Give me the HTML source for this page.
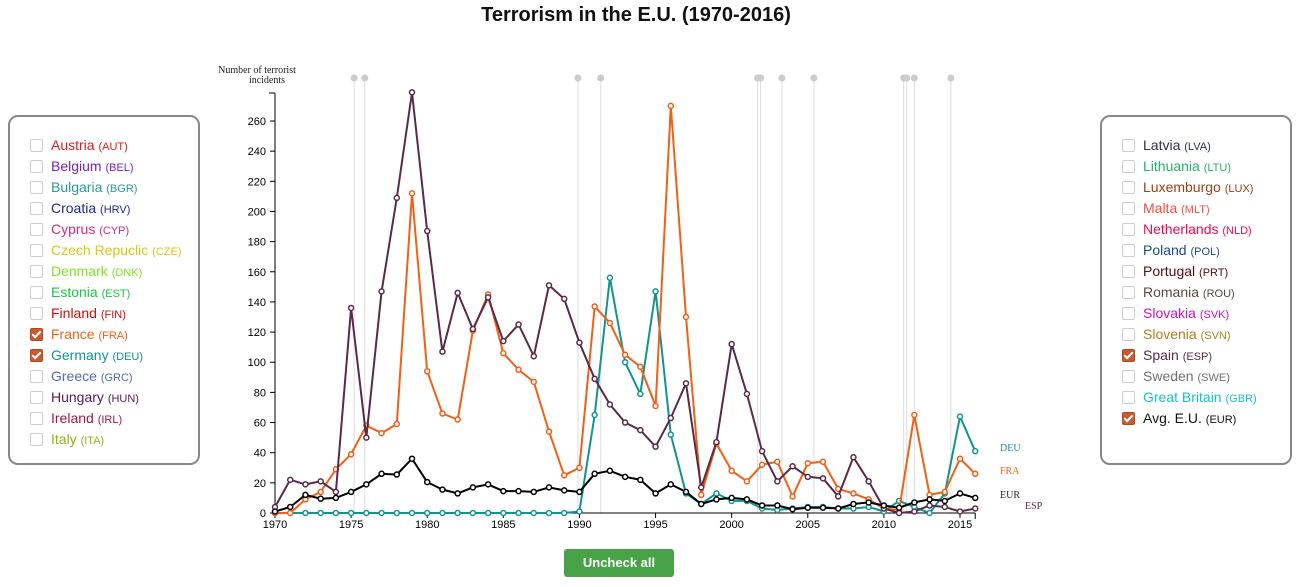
<!DOCTYPE html>
<html><head><meta charset="utf-8"><style>
body{margin:0;width:1300px;height:587px;background:#fff;font-family:"Liberation Sans",sans-serif;position:relative;overflow:hidden}
h1{position:absolute;left:0;width:1272px;top:4px;margin:0;text-align:center;font-size:20px;font-weight:bold;color:#111}
.box{position:absolute;top:115px;width:188px;height:346px;border:2px solid #888;border-radius:10px}
.item{position:absolute;left:20px;height:20px;font-size:14px;white-space:nowrap}
.item .cb{position:absolute;left:0;top:2px;width:11px;height:11px;border:1px solid #ccc;border-radius:2px;background:#fff}
.item .cb.on{background:#c95b32;border-color:#b04a25}
.item .cb.on::after{content:"";position:absolute;left:3px;top:0px;width:3px;height:7px;border:solid #fff;border-width:0 2px 2px 0;transform:rotate(45deg)}
.item span.t{position:absolute;left:21px;top:0}
.item small{font-size:11px}
#btn{position:absolute;left:564px;top:549px;width:110px;height:28px;background:#48a348;border-radius:3px;color:#fff;font-weight:bold;font-size:13px;text-align:center;line-height:28px}
svg{position:absolute;left:0;top:0}
</style></head><body>
<h1>Terrorism in the E.U. (1970-2016)</h1>
<div class="box" id="lbox" style="left:8px"></div>
<div class="box" id="rbox" style="left:1100px"></div>
<div id="btn">Uncheck all</div>
<svg id="chart" width="1300" height="587"></svg>
<script>
const left=[["Austria","AUT","#d42020",0],["Belgium","BEL","#7a1fc0",0],["Bulgaria","BGR","#2a9a98",0],["Croatia","HRV","#1f2a8c",0],["Cyprus","CYP","#d42a78",0],["Czech Repuclic","CZE","#d8c814",0],["Denmark","DNK","#7ee020",0],["Estonia","EST","#18c840",0],["Finland","FIN","#d40c0c",0],["France","FRA","#f06018",1],["Germany","DEU","#13938f",1],["Greece","GRC","#5a6aa8",0],["Hungary","HUN","#5a1a5a",0],["Ireland","IRL","#a0184a",0],["Italy","ITA","#98b018",0]];
const right=[["Latvia","LVA","#2a3050",0],["Lithuania","LTU","#28b070",0],["Luxemburgo","LUX","#a04010",0],["Malta","MLT","#f05040",0],["Netherlands","NLD","#f00850",0],["Poland","POL","#1a4a8a",0],["Portugal","PRT","#5a0a10",0],["Romania","ROU","#5a4a40",0],["Slovakia","SVK","#d010c0",0],["Slovenia","SVN","#b08018",0],["Spain","ESP","#5a2a48",1],["Sweden","SWE","#707070",0],["Great Britain","GBR","#18c0c0",0],["Avg. E.U.","EUR","#111",1]];
function fill(id,arr){const b=document.getElementById(id);arr.forEach((c,i)=>{const d=document.createElement('div');d.className='item';d.style.top=(20+i*21)+'px';d.style.color=c[2];


d.innerHTML='<div class="cb'+(c[3]?' on':'')+'"></div><span class="t">'+c[0]+' <small>('+c[1]+')</small></span>';b.appendChild(d);});}
fill('lbox',left);fill('rbox',right);

const years=[];for(let y=1970;y<=2016;y++)years.push(y);
const esp=[4,22,19,21,14,136,50,147,209,279,187,107,146,122,143,114,125,104,151,142,113,89,72,60,55,44,63,86,17,47,112,79,41,21,31,24,23,11,37,21,3,0,1,5,4,1,3];
const fra=[0,0,9,14,29,39,58,53,59,212,94,66,62,121,145,106,95,87,54,25,30,137,126,105,97,71,270,130,12,46,28,21,32,34,11,33,34,16,13,9,3,2,65,12,14,36,26];
const deu=[0,0,0,0,0,0,0,0,0,0,0,0,0,0,0,0,0,0,0,0,1,65,156,100,79,147,52,13,6,13,8,8,3,2,3,4,4,3,3,4,1,8,4,0,13,64,41];
const eur=[1,4,12,9.5,10,14,19,26,25.5,36,20.5,15.5,13,17,19,14.5,14.5,14,17,15,14,26,28,24,22,13,19,14,6,9,10,9,5,5,2.5,3.5,3.5,3,6,7,5,3.5,7,9,8,13,10];
const events=[1975.2,1975.9,1989.9,1991.4,2001.7,2001.9,2003.3,2005.4,2011.3,2011.5,2012.0,2014.4];
const yTicks=[0,20,40,60,80,100,120,140,160,180,200,220,240,260];
const xTicks=[1970,1975,1980,1985,1990,1995,2000,2005,2010,2015];
const X=y=>275+(y-1970)*(685/45), Y=v=>513-v*(392/260);
const NS="http://www.w3.org/2000/svg",svg=document.getElementById('chart');
function el(t,a,p){const e=document.createElementNS(NS,t);for(const k in a)e.setAttribute(k,a[k]);(p||svg).appendChild(e);return e;}
events.forEach((e,i)=>{const g=el('g',{});


el('line',{x1:X(e),x2:X(e),y1:78,y2:513,stroke:'#ddd','stroke-width':1},g);el('circle',{cx:X(e),cy:78,r:3.5,fill:'#ccc'},g);});
const ax=el('g',{});


el('line',{x1:275,x2:275,y1:93,y2:513,stroke:'#000'},ax);el('line',{x1:269,x2:275,y1:93,y2:93,stroke:'#000'},ax);
yTicks.forEach(v=>{el('line',{x1:270,x2:275,y1:Y(v),y2:Y(v),stroke:'#000'},ax);const t=el('text',{x:266,y:Y(v)+4,'text-anchor':'end','font-size':11,fill:'#000'},ax);t.textContent=v;});
const xa=el('g',{});


el('line',{x1:275,x2:X(2016),y1:513,y2:513,stroke:'#000'},xa);el('line',{x1:X(2016),x2:X(2016),y1:513,y2:519,stroke:'#000'},xa);
xTicks.forEach(v=>{el('line',{x1:X(v),x2:X(v),y1:513,y2:518,stroke:'#000'},xa);const t=el('text',{x:X(v),y:528,'text-anchor':'middle','font-size':11,fill:'#000'},xa);t.textContent=v;});
const yt=el('text',{x:257,y:73,'text-anchor':'middle','font-size':10,'font-family':'Liberation Serif,serif',fill:'#222'});


yt.innerHTML='<tspan x="257">Number of terrorist</tspan><tspan x="267" dy="10">incidents</tspan>';
const series=[["deu",deu,"#13938f","DEU",1000,451],["fra",fra,"#f06018","FRA",1000,474],["esp",esp,"#5a2a48","ESP",1025,509],["eur",eur,"#000","EUR",1000,498]];
series.forEach(s=>{const g=el('g',{});


el('path',{d:s[1].map((v,i)=>(i?'L':'M')+X(years[i]).toFixed(1)+','+Y(v).toFixed(1)).join(''),fill:'none',stroke:s[2],'stroke-width':2},g);
s[1].forEach((v,i)=>el('circle',{cx:X(years[i]),cy:Y(v),r:2.5,fill:'#fff',stroke:s[2],'stroke-width':1.5},g));
const t=el('text',{x:s[4],y:s[5],'font-size':10,'font-family':'Liberation Serif,serif',fill:s[2]==='#000'?'#223':s[2]});


t.textContent=s[3];});
</script>
</body></html>
